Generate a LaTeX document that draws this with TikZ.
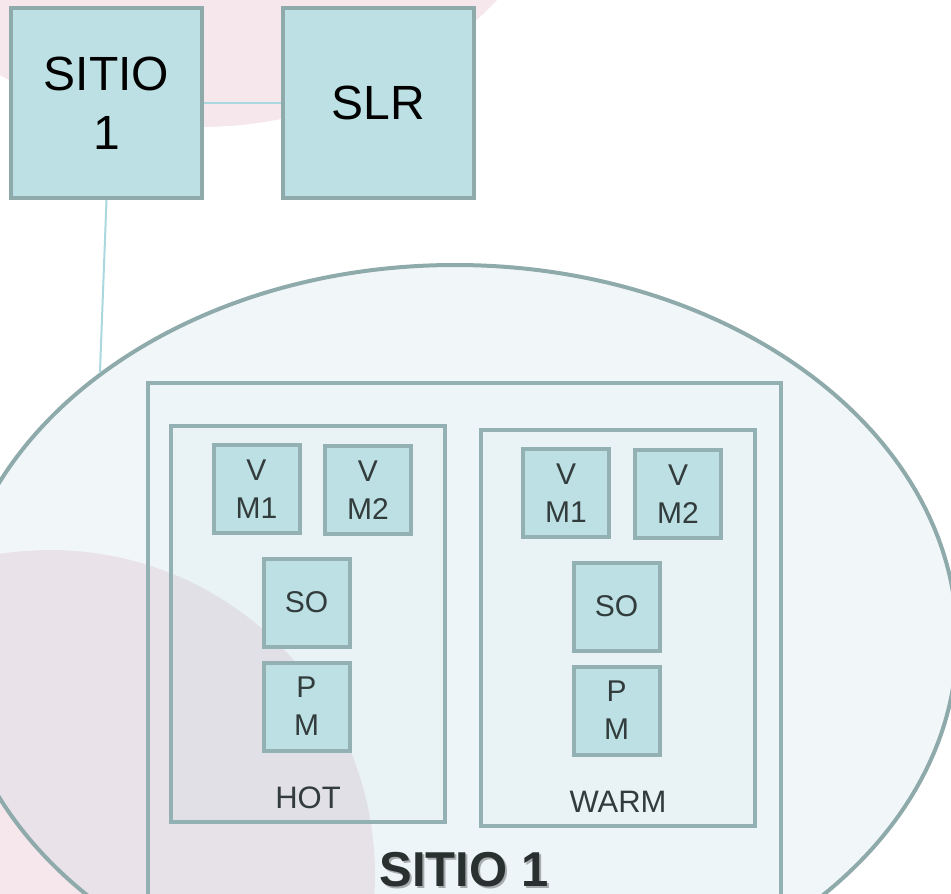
\documentclass[tikz,border=0pt]{standalone}
\usepackage{fontspec}
\setmainfont{Liberation Sans}
\usetikzlibrary{positioning,shapes.geometric}
\definecolor{edge}{HTML}{8EAAAB}
\definecolor{boxedge}{HTML}{93B1B3}
\definecolor{boxfill}{HTML}{BCE0E3}
\definecolor{haze}{RGB}{185,215,225}
\definecolor{blush}{RGB}{245,231,235}
\definecolor{linkcol}{HTML}{AAD8DE}
\definecolor{labeltext}{HTML}{333C3C}

\begin{document}
\begin{tikzpicture}[
    x=1pt, y=-1pt,
    bigbox/.style={
        draw=edge, line width=4pt, fill=boxfill,
        minimum width=191pt, minimum height=190pt,
        align=center, inner sep=0pt,
        font=\fontsize{48}{59}\selectfont, text=black
    },
    vmbox/.style={
        draw=boxedge, line width=4pt, fill=boxfill,
        minimum width=86pt, minimum height=88pt,
        align=center, inner sep=0pt,
        font=\fontsize{30}{38}\selectfont, text=labeltext
    },
    tier/.style={
        draw=boxedge, line width=4pt, fill=haze, fill opacity=0.1,
        minimum width=274pt, minimum height=396pt, inner sep=0pt
    },
    tierlabel/.style={
        font=\fontsize{31}{36}\selectfont, text=labeltext, inner sep=0pt
    },
    sitelabel/.style={
        font=\fontsize{49}{56}\bfseries\selectfont, inner sep=0pt, anchor=base
    },
    link/.style={
        draw=linkcol, line width=2pt
    }
]
\clip (0,0) rectangle (951,894);

% --- faint background blobs ---
\fill[blush] (200,-284) circle [radius=411pt];
\fill[blush] (50,875) circle [radius=325pt];

% --- site: ellipse with the host frame inside ---
\node[ellipse, draw=edge, line width=4pt, fill=haze, fill opacity=0.2,
      minimum width=1004pt, minimum height=750pt] (site) at (455,640) {};
\node[draw=boxedge, line width=4pt, fill=haze, fill opacity=0.05,
      minimum width=633pt, minimum height=617pt, inner sep=0pt] (host) at (464.5,691.5) {};

% --- top boxes ---
\node[bigbox] (sitio) at (106.5,103) {SITIO\\1};
\node[bigbox, right=77pt of sitio] (slr) {SLR};

% --- hot and warm tiers ---
\node[tier] (hot)  at (308,624) {};
\node[tier] (warm) at (618,627.5) {};
\node[tierlabel, above=15pt of hot.south]  (hotlbl)  {HOT};
\node[tierlabel, above=15pt of warm.south] (warmlbl) {WARM};

% hot tier contents
\node[vmbox] (hvm1) at (256.5,489) {V\\M1};
\node[vmbox] (hvm2) at (368,490)   {V\\M2};
\node[vmbox] (hso)  at (306.5,602.5) {SO};
\node[vmbox] (hpm)  at (306.5,706.5) {P\\M};

% warm tier contents
\node[vmbox] (wvm1) at (566,493) {V\\M1};
\node[vmbox] (wvm2) at (678,494) {V\\M2};
\node[vmbox] (wso)  at (616.5,606.5) {SO};
\node[vmbox] (wpm)  at (616.5,710.5) {P\\M};

% --- site name, with its soft shadow ---
\node[sitelabel, text=black, opacity=0.3] (siteshadow) at (466,888.5) {SITIO 1};
\node[sitelabel, text=labeltext!80!black] (sitelbl) at (464,886.5) {SITIO 1};

% --- connectors ---
\draw[link] (sitio.east) -- (slr.west);
\draw[link] (sitio.south) -- (site.143);

\end{tikzpicture}
\end{document}
